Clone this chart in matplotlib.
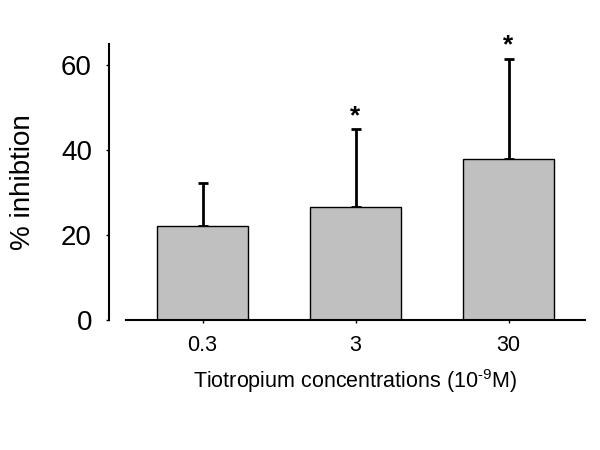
import numpy as np
import matplotlib
matplotlib.use("Agg")
import matplotlib.pyplot as plt

plt.rcParams['font.family'] = ['Liberation Sans', 'DejaVu Sans']

# data
concentrations = ['0.3', '3', '30']
inhibition = [22.1, 26.6, 37.9]
error_up = [10.1, 18.3, 23.7]
significant = [False, True, True]

fig = plt.figure(figsize=(6, 4.5), dpi=100)
ax = fig.add_axes([0.21, 0.289, 0.765, 0.613])

x = np.arange(len(concentrations))
ax.bar(x, inhibition, width=0.6, color='#c0c0c0', edgecolor='black', linewidth=1, zorder=2)
ax.errorbar(x, inhibition, yerr=[np.zeros(len(x)), error_up], fmt='none',
            ecolor='black', elinewidth=2, capsize=3.5, capthick=2, zorder=1)

# asterisks over the significant bars
for xi, m, e, s in zip(x, inhibition, error_up, significant):
    if s:
        ax.annotate('*', (xi, m + e), xytext=(0, 1), textcoords='offset points',
                    ha='center', va='bottom', fontsize=19, fontweight='bold',
                    annotation_clip=False)

ax.set_xlim(-0.5, 2.5)
ax.set_ylim(0, 65)
ax.set_yticks([0, 20, 40, 60])
ax.set_xticks(x)
ax.set_xticklabels(concentrations)

ax.spines['top'].set_visible(False)
ax.spines['right'].set_visible(False)
ax.spines['left'].set_position(('outward', 12))
ax.spines['left'].set_linewidth(1.5)
ax.spines['bottom'].set_linewidth(1.5)

ax.tick_params(axis='y', labelsize=20, length=2.5, width=1, pad=10)
ax.tick_params(axis='x', labelsize=15.5, length=2.5, width=1, pad=8)

ax.set_ylabel('% inhibtion', fontsize=20, labelpad=18)
ax.set_xlabel('Tiotropium concentrations (10$^{\\mathregular{\u20109}}$M)', fontsize=15.5, labelpad=8)

fig.savefig('out.png', dpi=100)
